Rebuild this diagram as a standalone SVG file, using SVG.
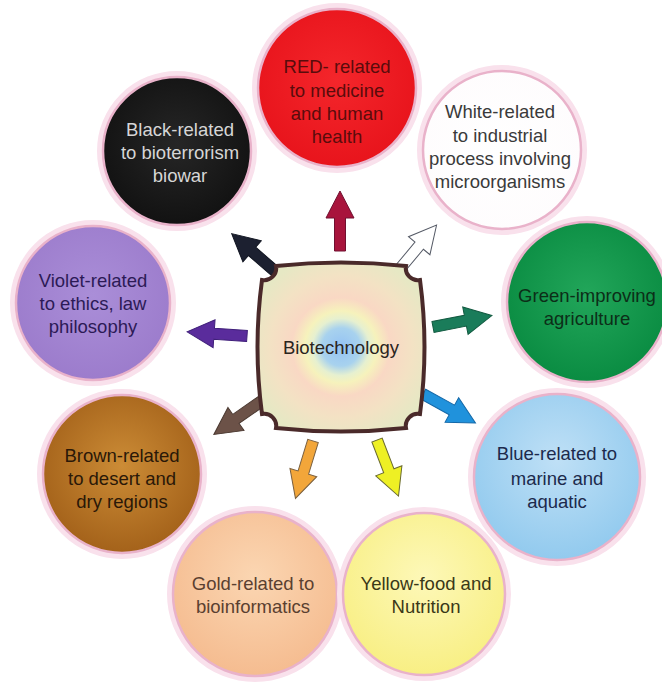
<svg xmlns="http://www.w3.org/2000/svg" xmlns:xlink="http://www.w3.org/1999/xlink" width="662" height="683" viewBox="0 0 662 683">
<defs>
<style>
.halo{fill:none;stroke:#f9e1ec;stroke-width:6}
.rim{stroke:#e9b2ca;stroke-width:2.5}
text{font-family:"Liberation Sans",Arial,sans-serif;font-size:18.5px;text-anchor:middle}
.arrow{stroke-width:1;stroke-linejoin:miter}
</style>
<radialGradient id="gRed" cx="50%" cy="45%" r="55%"><stop offset="0" stop-color="#f4262b"/><stop offset="1" stop-color="#e8141c"/></radialGradient>
<radialGradient id="gBlack" cx="50%" cy="45%" r="55%"><stop offset="0" stop-color="#262626"/><stop offset="1" stop-color="#121212"/></radialGradient>
<radialGradient id="gWhite" cx="50%" cy="50%" r="55%"><stop offset="0" stop-color="#ffffff"/><stop offset="1" stop-color="#fefcfd"/></radialGradient>
<radialGradient id="gGreen" cx="50%" cy="45%" r="55%"><stop offset="0" stop-color="#22a65a"/><stop offset="1" stop-color="#0a8c42"/></radialGradient>
<radialGradient id="gViolet" cx="50%" cy="45%" r="55%"><stop offset="0" stop-color="#aa8ed8"/><stop offset="1" stop-color="#9c7ccc"/></radialGradient>
<radialGradient id="gBrown" cx="50%" cy="45%" r="55%"><stop offset="0" stop-color="#cc8c36"/><stop offset="1" stop-color="#a4621a"/></radialGradient>
<radialGradient id="gGold" cx="50%" cy="40%" r="60%"><stop offset="0" stop-color="#fbd6b2"/><stop offset="1" stop-color="#f5bc90"/></radialGradient>
<radialGradient id="gYellow" cx="50%" cy="40%" r="60%"><stop offset="0" stop-color="#fdf8b8"/><stop offset="1" stop-color="#f8ef84"/></radialGradient>
<radialGradient id="gBlue" cx="50%" cy="40%" r="60%"><stop offset="0" stop-color="#bfe0f6"/><stop offset="1" stop-color="#92caee"/></radialGradient>
<radialGradient id="gCore" cx="341" cy="347" r="95" gradientUnits="userSpaceOnUse">
<stop offset="0" stop-color="#94c2f4"/><stop offset="0.2" stop-color="#a8d2ee"/><stop offset="0.3" stop-color="#e6f0d0"/><stop offset="0.38" stop-color="#f6f2bc"/><stop offset="0.52" stop-color="#f9d8c4"/><stop offset="0.75" stop-color="#f3e2c4"/><stop offset="1" stop-color="#e6e8c4"/>
</radialGradient>
<path id="arr" d="M0,-5.5 L33,-5.5 L33,-14 L60,0 L33,14 L33,5.5 L0,5.5 Z"/>
</defs>
<rect width="662" height="683" fill="#ffffff"/>

<g id="connectors">
<use xlink:href="#arr" class="arrow" fill="#a8143c" stroke="#701030" transform="translate(340,251) rotate(-90)"/>
<use xlink:href="#arr" class="arrow" fill="#1c2030" stroke="#101420" transform="translate(277,273) rotate(-139)"/>
<use xlink:href="#arr" class="arrow" fill="#ffffff" stroke="#555a66" stroke-width="1.3" transform="translate(398,271) rotate(-50)"/>
<use xlink:href="#arr" class="arrow" fill="#1a7c5a" stroke="#125a40" transform="translate(433,327) rotate(-11)"/>
<use xlink:href="#arr" class="arrow" fill="#5a2c9c" stroke="#40207a" transform="translate(247,336) rotate(-176)"/>
<use xlink:href="#arr" class="arrow" fill="#6c5248" stroke="#4a3830" transform="translate(263,400) rotate(145)"/>
<use xlink:href="#arr" class="arrow" fill="#2092dc" stroke="#1468a8" transform="translate(423,394) rotate(29)"/>
<use xlink:href="#arr" class="arrow" fill="#f2a63a" stroke="#7a6040" transform="translate(313,441) rotate(107)"/>
<use xlink:href="#arr" class="arrow" fill="#eef024" stroke="#6a6a30" transform="translate(377,440) rotate(69)"/>
</g>

<g id="node-center">
<path d="M276,266 Q341,259 406,266 A12 12 0 0 0 420 280 Q429,347 420,414 A12 12 0 0 0 406 428 Q341,435 276,428 A12 12 0 0 0 262 414 Q253,347 262,280 A12 12 0 0 0 276 266 Z" fill="url(#gCore)" stroke="#4a2a2a" stroke-width="4"/>
<text x="341" y="354" fill="#2a2420">Biotechnology</text>
</g>

<g id="node-red">
<circle class="halo" cx="337" cy="88" r="82"/>
<circle class="rim" cx="337" cy="88" r="79" fill="url(#gRed)"/>
<text fill="#5a0c0c"><tspan x="337" y="73">RED- related</tspan><tspan x="337" y="97">to medicine</tspan><tspan x="337" y="120">and human</tspan><tspan x="337" y="143">health</tspan></text>
</g>

<g id="node-black">
<circle class="halo" cx="177" cy="151" r="77"/>
<circle class="rim" cx="177" cy="151" r="74" fill="url(#gBlack)"/>
<text fill="#d6d6d6"><tspan x="180" y="136">Black-related</tspan><tspan x="180" y="159">to bioterrorism</tspan><tspan x="180" y="182">biowar</tspan></text>
</g>

<g id="node-white">
<circle class="halo" cx="502" cy="150" r="82"/>
<circle class="rim" cx="502" cy="150" r="79" fill="url(#gWhite)"/>
<text fill="#3a3a3a"><tspan x="500" y="118">White-related</tspan><tspan x="500" y="142">to industrial</tspan><tspan x="500" y="165">process involving</tspan><tspan x="500" y="188">microorganisms</tspan></text>
</g>

<g id="node-green">
<circle class="halo" cx="587" cy="302" r="83"/>
<circle class="rim" cx="587" cy="302" r="80" fill="url(#gGreen)"/>
<text fill="#0c2e18"><tspan x="587" y="302">Green-improving</tspan><tspan x="587" y="325">agriculture</tspan></text>
</g>

<g id="node-violet">
<circle class="halo" cx="93" cy="303" r="80"/>
<circle class="rim" cx="93" cy="303" r="77" fill="url(#gViolet)"/>
<text fill="#2c1a56"><tspan x="93" y="287">Violet-related</tspan><tspan x="93" y="310">to ethics, law</tspan><tspan x="93" y="333">philosophy</tspan></text>
</g>

<g id="node-brown">
<circle class="halo" cx="122" cy="474" r="82"/>
<circle class="rim" cx="122" cy="474" r="79" fill="url(#gBrown)"/>
<text fill="#2a1808"><tspan x="122" y="462">Brown-related</tspan><tspan x="122" y="485">to desert and</tspan><tspan x="122" y="508">dry regions</tspan></text>
</g>

<g id="node-gold">
<circle class="halo" cx="255" cy="594" r="85"/>
<circle class="rim" cx="255" cy="594" r="82" fill="url(#gGold)"/>
<text fill="#5a4030"><tspan x="253" y="590">Gold-related to</tspan><tspan x="253" y="613">bioinformatics</tspan></text>
</g>

<g id="node-yellow">
<circle class="halo" cx="424" cy="594" r="84"/>
<circle class="rim" cx="424" cy="594" r="81" fill="url(#gYellow)"/>
<text fill="#3a3818"><tspan x="426" y="590">Yellow-food and</tspan><tspan x="426" y="613">Nutrition</tspan></text>
</g>

<g id="node-blue">
<circle class="halo" cx="557" cy="477" r="86"/>
<circle class="rim" cx="557" cy="477" r="83" fill="url(#gBlue)"/>
<text fill="#1c2a4c"><tspan x="557" y="460">Blue-related to</tspan><tspan x="557" y="485">marine and</tspan><tspan x="557" y="508">aquatic</tspan></text>
</g>
</svg>
